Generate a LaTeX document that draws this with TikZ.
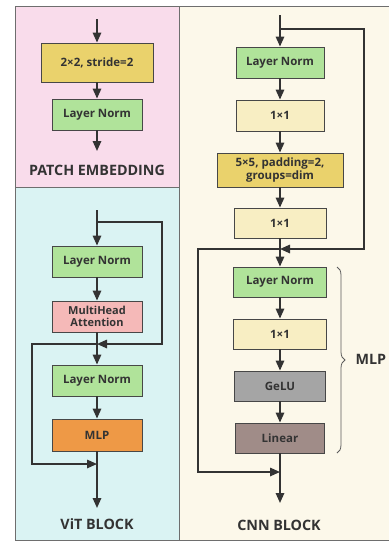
\documentclass[tikz,border=0pt]{standalone}
\usepackage{fontspec}
\setmainfont{Open Sans}
\usetikzlibrary{arrows.meta,decorations.pathreplacing}
\definecolor{txt}{HTML}{333333}
\definecolor{pinkbg}{HTML}{F9DCEB}
\definecolor{cyanbg}{HTML}{DAF3F3}
\definecolor{beigebg}{HTML}{FCF8EA}
\definecolor{greenbox}{HTML}{B0E39A}
\definecolor{yellowbox}{HTML}{EAD26C}
\definecolor{lightyellow}{HTML}{F8EEC3}
\definecolor{pinkbox}{HTML}{F5B9B8}
\definecolor{orangebox}{HTML}{EE9946}
\definecolor{graybox}{HTML}{A5A5A5}
\definecolor{brownbox}{HTML}{A08C88}
\definecolor{panelline}{HTML}{6E6E6E}
\tikzset{
  blk/.style={draw=txt!90, line width=0.9pt, minimum height=31pt, minimum width=90pt, inner sep=1pt,
    font=\fontsize{11.5}{14}\selectfont\bfseries, text=txt, align=center},
  flow/.style={draw=txt, line width=1.6pt, -{Triangle[width=8.5pt,length=10pt]}},
  title/.style={font=\fontsize{14.3}{17}\selectfont\bfseries, text=txt},
}
\begin{document}
\begin{tikzpicture}[x=1pt,y=-1pt]
\useasboundingbox (0,0) rectangle (389,542);
% panels
\fill[pinkbg] (15,6) rectangle (179,187);
\fill[cyanbg] (15,187) rectangle (179,540);
\fill[beigebg] (179,6) rectangle (389,540);
\draw[panelline, line width=1pt] (389,6) -- (15,6) -- (15,540) -- (389,540);
\draw[panelline, line width=1pt] (179,6) -- (179,540);
\draw[panelline, line width=1pt] (15,187) -- (179,187);

% PATCH EMBEDDING
\coordinate (ps) at (97,19);
\node[blk, fill=yellowbox, minimum width=112pt, minimum height=39pt] (p1) at (97,62.5) {2×2, stride=2};
\node[blk, fill=greenbox] (p2) at (97,114.5) {Layer Norm};
\coordinate (pe) at (97,151);
\draw[flow] (ps) -- (p1);
\draw[flow] (p1) -- (p2);
\draw[flow] (p2) -- (pe);
\node[title] (pt) at (97,170) {PATCH EMBEDDING};

% ViT BLOCK
\coordinate (vs) at (97,210);
\coordinate (vb) at (97,222);
\coordinate (vr1) at (162,222);
\coordinate (vr2) at (162,344);
\node[blk, fill=greenbox] (v1) at (97,261.5) {Layer Norm};
\node[blk, fill=pinkbox, font=\fontsize{11}{12.5}\selectfont\bfseries] (v2) at (97,316.5) {MultiHead\\Attention};
\coordinate (vj1) at (97,344);
\node[blk, fill=greenbox] (v3) at (97,380.5) {Layer Norm};
\node[blk, fill=orangebox, minimum height=32pt] (v4) at (97,435) {MLP};
\coordinate (vj2) at (97,464);
\coordinate (vl1) at (32,344);
\coordinate (vl2) at (32,464);
\coordinate (ve) at (97,508);
\draw[flow] (vs) -- (v1);
\draw[flow] (v1) -- (v2);
\draw[flow] (v2) -- (v3);
\draw[flow] (v3) -- (v4);
\draw[flow] (v4) -- (ve);
\draw[flow] (vb) -- (vr1) -- (vr2) -- (vj1);
\draw[flow] (vj1) -- (vl1) -- (vl2) -- (vj2);
\node[title] (vt) at (97,524) {ViT BLOCK};

% CNN BLOCK
\coordinate (cs) at (280,15);
\coordinate (cb) at (280,29);
\coordinate (cr1) at (364,29);
\coordinate (cr2) at (364,249);
\node[blk, fill=greenbox, minimum width=88pt] (c1) at (280,62.5) {Layer Norm};
\node[blk, fill=lightyellow, minimum width=88pt] (c2) at (280,115.5) {1×1};
\node[blk, fill=yellowbox, minimum width=126pt, minimum height=34pt, font=\fontsize{11.5}{13.5}\selectfont\bfseries] (c3) at (280,170) {5×5, padding=2,\\groups=dim};
\node[blk, fill=lightyellow, minimum width=92pt, minimum height=30pt] (c4) at (280,223) {1×1};
\coordinate (cj1) at (280,249);
\node[blk, fill=greenbox, minimum width=93pt, minimum height=30pt] (c5) at (280,282) {Layer Norm};
\node[blk, fill=lightyellow, minimum width=93pt, minimum height=30pt] (c6) at (280,334) {1×1};
\node[blk, fill=graybox, minimum width=91pt, minimum height=30pt] (c7) at (280,386) {GeLU};
\node[blk, fill=brownbox, minimum width=89pt, minimum height=30pt] (c8) at (280,438) {Linear};
\coordinate (cj2) at (280,472);
\coordinate (cl1) at (198,249);
\coordinate (cl2) at (198,472);
\coordinate (ce) at (280,503);
\draw[flow] (cs) -- (c1);
\draw[flow] (c1) -- (c2);
\draw[flow] (c2) -- (c3);
\draw[flow] (c3) -- (c4);
\draw[flow] (c4) -- (c5);
\draw[flow] (c5) -- (c6);
\draw[flow] (c6) -- (c7);
\draw[flow] (c7) -- (c8);
\draw[flow] (c8) -- (ce);
\draw[flow] (cb) -- (cr1) -- (cr2) -- (cj1);
\draw[flow] (cj1) -- (cl1) -- (cl2) -- (cj2);
\node[title] (ct) at (279,525) {CNN BLOCK};

% brace
\coordinate (br1) at (337,267);
\coordinate (br2) at (337,453);
\draw[txt!80, line width=0.8pt, decorate, decoration={brace, amplitude=8pt}] (br1) -- (br2);
\node[title, anchor=west] (mlp) at (352,359) {MLP};
\end{tikzpicture}
\end{document}
